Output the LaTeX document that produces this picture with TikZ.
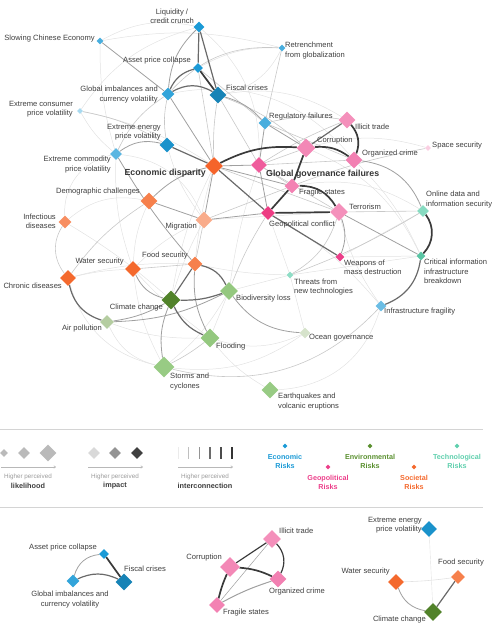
\documentclass[tikz,border=0pt]{standalone}
\usepackage{fontspec}
\setmainfont{Liberation Sans}
\usetikzlibrary{shapes.geometric,backgrounds,arrows.meta}

\definecolor{txt}{HTML}{3E3E3E}
\definecolor{lgdgray}{HTML}{9A9A9A}
\definecolor{rulegray}{HTML}{D4D4D4}
\definecolor{tieA}{HTML}{E2E2E2}
\definecolor{tieB}{HTML}{C8C8C8}
\definecolor{tieC}{HTML}{A0A0A0}
\definecolor{tieD}{HTML}{6A6A6A}
\definecolor{tieE}{HTML}{3A3A3A}
% categories
\definecolor{econ}{HTML}{1B9AD6}
\definecolor{geop}{HTML}{EC3F8A}
\definecolor{envi}{HTML}{5A902F}
\definecolor{soci}{HTML}{F4692D}
\definecolor{tech}{HTML}{5FCFAD}

\tikzset{every picture/.style={line width=0.75pt}}
\tikzset{
  risk/.style={diamond, aspect=1, inner sep=0pt, draw=none},
  lbl/.style={inner sep=0pt, text=txt, font=\fontsize{7.6}{9.3}\selectfont},
  hub/.style={inner sep=0pt, text=txt!85!black, font=\bfseries\fontsize{8.8}{10.5}\selectfont},
  lgdsmall/.style={inner sep=0pt, text=lgdgray, font=\fontsize{6.3}{7.5}\selectfont},
  lgdbold/.style={inner sep=0pt, text=txt, font=\bfseries\fontsize{7.3}{8.5}\selectfont},
  cattxt/.style={inner sep=0pt, align=center, font=\bfseries\fontsize{7.2}{9}\selectfont},
  lnkfaint/.style={draw=tieA, line width=0.5pt},
  lnkweak/.style={draw=tieB, line width=0.6pt},
  lnkmid/.style={draw=tieC, line width=0.8pt},
  lnkstrong/.style={draw=tieD, line width=1.2pt},
  lnkheavy/.style={draw=tieE, line width=1.7pt},
  scalearrow/.style={draw=lgdgray!70, line width=0.6pt, -{To[length=2.5pt,width=3pt]}},
}

\begin{document}
\begin{tikzpicture}[x=1pt,y=1pt,yscale=-1]
\useasboundingbox (0,0) rectangle (492,644);

%%%%%%%%%% Economic risks
\node[risk, fill=econ, minimum size=11pt] (liq) at (199,27) {};
\node[risk, fill=econ!80!white, minimum size=7pt] (chn) at (100,41) {};
\node[risk, fill=econ, minimum size=10pt] (asset) at (198,68) {};
\node[risk, fill=econ!85!black, minimum size=17pt] (fisc) at (218,95) {};
\node[risk, fill=econ!90!white, minimum size=13pt] (imbal) at (168,94) {};
\node[risk, fill=econ!80!white, minimum size=7pt] (retr) at (282,48) {};
\node[risk, fill=econ!38!white, minimum size=6pt] (cons) at (80,111) {};
\node[risk, fill=econ!95!black, minimum size=15pt] (energy) at (167,145) {};
\node[risk, fill=econ!72!white, minimum size=12pt] (comm) at (116,154) {};
\node[risk, fill=econ!80!white, minimum size=13pt] (reg) at (265,123) {};
\node[risk, fill=econ!65!white, minimum size=11pt] (infra) at (381,306) {};

%%%%%%%%%% Geopolitical risks
\node[risk, fill=geop!58!white, minimum size=17pt] (illicit) at (347,120) {};
\node[risk, fill=geop!62!white, minimum size=19pt] (corr) at (306,148) {};
\node[risk, fill=geop!66!white, minimum size=17pt] (crime) at (354,160) {};
\node[risk, fill=geop!25!white, minimum size=6pt] (space) at (428,148) {};
\node[risk, fill=geop!85!white, minimum size=16pt] (gov) at (259,165) {};
\node[risk, fill=geop!65!white, minimum size=15pt] (fragile) at (292,186) {};
\node[risk, fill=geop!95!red, minimum size=14pt] (geo) at (268,213) {};
\node[risk, fill=geop!58!white, minimum size=18pt] (terror) at (339,212) {};
\node[risk, fill=geop, minimum size=9pt] (wmd) at (340,257) {};

%%%%%%%%%% Societal risks
\node[risk, fill=soci!95!red, minimum size=18pt] (disp) at (214,166) {};
\node[risk, fill=soci!85!white, minimum size=17pt] (demo) at (149,201) {};
\node[risk, fill=soci!75!white, minimum size=13pt] (infect) at (65,222) {};
\node[risk, fill=soci!55!white, minimum size=17pt] (migr) at (204,220) {};
\node[risk, fill=soci, minimum size=16pt] (water) at (133,269) {};
\node[risk, fill=soci!85!white, minimum size=15pt] (food) at (195,264) {};
\node[risk, fill=soci, minimum size=16pt] (chronic) at (68,278) {};

%%%%%%%%%% Technological risks
\node[risk, fill=tech!75!white, minimum size=12pt] (online) at (423,211) {};
\node[risk, fill=tech!95!black, minimum size=9pt] (cii) at (421,256) {};
\node[risk, fill=tech!70!white, minimum size=7pt] (threat) at (290,275) {};

%%%%%%%%%% Environmental risks
\node[risk, fill=envi!90!black, minimum size=19pt] (climate) at (171,300) {};
\node[risk, fill=envi!55!white!90!green, minimum size=18pt] (bio) at (229,291) {};
\node[risk, fill=envi!45!white, minimum size=14pt] (air) at (107,322) {};
\node[risk, fill=envi!55!white!90!green, minimum size=19pt] (flood) at (210,338) {};
\node[risk, fill=envi!25!white, minimum size=11pt] (ocean) at (305,333) {};
\node[risk, fill=envi!52!white!90!green, minimum size=21pt] (storm) at (164,367) {};
\node[risk, fill=envi!52!white!90!green, minimum size=17pt] (quake) at (270,390) {};

%%%%%%%%%% Links
\begin{pgfonlayer}{background}
% faint background arcs
\draw[lnkfaint] (chn) to[bend right=20] (liq);
\draw[lnkfaint] (chn) to[bend left=8] (comm);
\draw[lnkfaint] (retr) to[bend left=15] (asset);
\draw[lnkfaint] (cons) to[bend right=10] (disp);
\draw[lnkfaint] (cons) to[bend left=10] (comm);
\draw[lnkfaint] (liq) to[bend right=25] (gov);
\draw[lnkfaint] (comm) to[bend left=10] (water);
\draw[lnkfaint] (demo) to[bend left=10] (water);
\draw[lnkfaint] (demo) to[bend left=25] (infect);
\draw[lnkfaint] (infect) to[bend right=5] (climate);
\draw[lnkfaint] (chronic) to[bend right=5] (water);
\draw[lnkfaint] (chronic) to[bend right=8] (food);
\draw[lnkfaint] (water) to[bend left=5] (flood);
\draw[lnkfaint] (water) to[bend left=10] (storm);
\draw[lnkfaint] (air) to[bend left=10] (flood);
\draw[lnkfaint] (air) to[bend left=25] (storm);
\draw[lnkfaint] (storm) to[bend left=10] (bio);
\draw[lnkfaint] (flood) to (bio);
\draw[lnkfaint] (food) to[bend right=5] (disp);
\draw[lnkfaint] (food) to[bend left=5] (threat);
\draw[lnkfaint] (bio) to (threat);
\draw[lnkfaint] (bio) to[bend right=5] (gov);
\draw[lnkfaint] (climate) to[bend right=5] (migr);
\draw[lnkfaint] (climate) to[bend right=8] (disp);
\draw[lnkfaint] (threat) to (ocean);
\draw[lnkfaint] (threat) to (cii);
\draw[lnkfaint] (geo) to (threat);
\draw[lnkfaint] (wmd) to (online);
\draw[lnkfaint] (wmd) to (cii);
\draw[lnkfaint] (migr) to (terror);
\draw[lnkfaint] (migr) to[bend left=10] (water);
\draw[lnkfaint] (infra) to[bend right=10] (terror);
\draw[lnkfaint] (infra) to[bend left=10] (geo);
\draw[lnkfaint] (corr) to[bend right=15] (space);
\draw[lnkfaint] (corr) to[bend right=20] (cii);
\draw[lnkfaint] (quake) to[bend left=35] (infra);
\draw[lnkfaint] (quake) to[bend right=10] (flood);
\draw[lnkfaint] (storm) to[bend left=20] (ocean);
\draw[lnkfaint] (retr) to[bend right=25] (fisc);
\draw[lnkfaint] (chn) to[bend right=12] (retr);
\draw[lnkfaint] (cons) to[bend right=20] (liq);
\draw[lnkfaint] (infect) to[bend right=40] (comm);
\draw[lnkfaint] (chronic) to[bend left=30] (storm);
\draw[lnkfaint] (comm) to[bend right=30] (migr);
\draw[lnkfaint] (imbal) to[bend right=30] (crime);
\draw[lnkfaint] (fisc) to[bend right=20] (illicit);
\draw[lnkfaint] (crime) to[bend right=10] (cii);
\draw[lnkfaint] (online) to[bend left=20] (fragile);
\draw[lnkfaint] (flood) to[bend left=20] (ocean);
\draw[lnkfaint] (energy) to[bend left=10] (migr);
% light links
\draw[lnkweak] (imbal) to[bend right=25] (retr);
\draw[lnkweak] (retr) to (reg);
\draw[lnkweak] (cons) to[bend right=10] (energy);
\draw[lnkweak] (asset) to (disp);
\draw[lnkweak] (asset) to (reg);
\draw[lnkweak] (fisc) to[bend left=5] (disp);
\draw[lnkweak] (fisc) to (gov);
\draw[lnkweak] (fisc) to[bend right=10] (corr);
\draw[lnkweak] (imbal) to[bend left=10] (energy);
\draw[lnkweak] (imbal) to[bend left=15] (comm);
\draw[lnkweak] (demo) to[bend left=10] (chronic);
\draw[lnkweak] (infect) to[bend left=35] (chronic);
\draw[lnkweak] (water) to (food);
\draw[lnkweak] (storm) to[bend left=5] (flood);
\draw[lnkweak] (food) to (migr);
\draw[lnkweak] (bio) to[bend right=5] (geo);
\draw[lnkweak] (threat) to[bend left=20] (terror);
\draw[lnkweak] (threat) to[bend left=5] (online);
\draw[lnkweak] (terror) to (online);
\draw[lnkweak] (gov) to (terror);
\draw[lnkweak] (fragile) to[bend right=5] (space);
\draw[lnkweak] (reg) to[bend right=10] (illicit);
\draw[lnkweak] (reg) to (crime);
\draw[lnkweak] (gov) to (corr);
\draw[lnkweak] (gov) to[bend right=5] (illicit);
\draw[lnkweak] (gov) to (crime);
\draw[lnkweak] (gov) to (fragile);
\draw[lnkweak] (disp) to (terror);
\draw[lnkweak] (migr) to (fragile);
\draw[lnkweak] (storm) to[bend left=30] (infra);
% medium links
\draw[lnkmid] (imbal) to[bend right=20] (liq);
\draw[lnkmid] (chn) to (imbal);
\draw[lnkmid] (comm) to[bend right=25] (energy);
\draw[lnkmid] (comm) to[bend left=5] (food);
\draw[lnkmid] (disp) to (imbal);
\draw[lnkmid] (disp) to (gov);
\draw[lnkmid] (disp) to (fragile);
\draw[lnkmid] (disp) to[bend left=15] (demo);
\draw[lnkmid] (disp) to (migr);
\draw[lnkmid] (demo) to (migr);
\draw[lnkmid] (migr) to (geo);
\draw[lnkmid] (gov) to (reg);
\draw[lnkmid] (gov) to (geo);
\draw[lnkmid] (fisc) to[bend right=15] (reg);
\draw[lnkmid] (reg) to (corr);
\draw[lnkmid] (terror) to[bend right=20] (wmd);
\draw[lnkmid] (terror) to (cii);
\draw[lnkmid] (crime) to[bend right=30] (online);
\draw[lnkmid] (climate) to[bend left=15] (storm);
\draw[lnkmid] (water) to[bend left=25] (climate);
\draw[lnkmid] (air) to[bend left=10] (climate);
\draw[lnkmid] (air) to[bend left=12] (bio);
\draw[lnkmid] (food) to[bend left=15] (flood);
\draw[lnkmid] (bio) to[bend left=25] (ocean);
% strong links
\draw[lnkstrong] (liq) to (asset);
\draw[lnkstrong] (liq) to (fisc);
\draw[lnkstrong] (imbal) to[bend right=25] (asset);
\draw[lnkstrong] (imbal) to[bend right=30] (fisc);
\draw[lnkstrong] (disp) to (energy);
\draw[lnkstrong] (disp) to (geo);
\draw[lnkstrong] (geo) to (wmd);
\draw[lnkstrong] (corr) to (illicit);
\draw[lnkstrong] (cii) to[bend right=30] (infra);
\draw[lnkstrong] (climate) to (food);
\draw[lnkstrong] (climate) to[bend left=10] (bio);
\draw[lnkstrong] (food) to[bend right=25] (bio);
\draw[lnkstrong] (climate) to[bend left=20] (flood);
\draw[lnkstrong] (chronic) to[bend left=30] (air);
% heavy links
\draw[lnkheavy] (asset) to (fisc);
\draw[lnkheavy] (disp) to[bend right=15] (corr);
\draw[lnkheavy] (corr) to[bend right=20] (crime);
\draw[lnkheavy] (illicit) to[bend right=30] (crime);
\draw[lnkheavy] (corr) to (fragile);
\draw[lnkheavy] (fragile) to (geo);
\draw[lnkheavy] (fragile) to[bend right=30] (terror);
\draw[lnkheavy] (geo) to (terror);
\draw[lnkheavy] (online) to[bend right=40] (cii);
\end{pgfonlayer}

%%%%%%%%%% Risk labels
\node[lbl, anchor=east, align=center] (liqtxt) at (194,16.5) {Liquidity /\\credit crunch};
\node[lbl, anchor=east] (chntxt) at (95,39) {Slowing Chinese Economy};
\node[lbl, anchor=east] (assettxt) at (191,61) {Asset price collapse};
\node[lbl, anchor=west] (fisctxt) at (226,88) {Fiscal crises};
\node[lbl, anchor=east, align=right] (imbaltxt) at (158,94.5) {Global imbalances and\\currency volatility};
\node[lbl, anchor=west, align=left] (retrtxt) at (285,50.5) {Retrenchment\\from globalization};
\node[lbl, anchor=east, align=right] (constxt) at (73,109.5) {Extreme consumer\\price volatility};
\node[lbl, anchor=east, align=right] (energytxt) at (161,132.5) {Extreme energy\\price volatility};
\node[lbl, anchor=east, align=right] (commtxt) at (111,164.5) {Extreme commodity\\price volatility};
\node[lbl, anchor=west] (regtxt) at (269,117) {Regulatory failures};
\node[lbl, anchor=west] (illicittxt) at (355,127) {Illicit trade};
\node[lbl, anchor=west] (corrtxt) at (317,141) {Corruption};
\node[lbl, anchor=west] (crimetxt) at (362,154) {Organized crime};
\node[lbl, anchor=west] (spacetxt) at (432,146) {Space security};
\node[hub, anchor=east] (disptxt) at (206,173) {Economic disparity};
\node[hub, anchor=west] (govtxt) at (266,174) {Global governance failures};
\node[lbl, anchor=west] (fragiletxt) at (299,193) {Fragile states};
\node[lbl, anchor=east] (demotxt) at (140,192) {Demographic challenges};
\node[lbl, anchor=east, align=right] (infecttxt) at (56,221.5) {Infectious\\diseases};
\node[lbl, anchor=east] (migrtxt) at (197,227) {Migration};
\node[lbl, anchor=west] (geotxt) at (269,225) {Geopolitical conflict};
\node[lbl, anchor=west] (terrortxt) at (349,207) {Terrorism};
\node[lbl, anchor=west, align=left] (onlinetxt) at (426,199.5) {Online data and\\information security};
\node[lbl, anchor=west, align=left] (wmdtxt) at (344,267) {Weapons of\\mass destruction};
\node[lbl, anchor=west, align=left] (ciitxt) at (424,271.5) {Critical information\\infrastructure\\breakdown};
\node[lbl, anchor=east] (watertxt) at (124,262) {Water security};
\node[lbl, anchor=east] (foodtxt) at (188,256) {Food security};
\node[lbl, anchor=east] (chronictxt) at (62,286) {Chronic diseases};
\node[lbl, anchor=west, align=left] (threattxt) at (294,287) {Threats from\\new technologies};
\node[lbl, anchor=east] (climatetxt) at (163,308) {Climate change};
\node[lbl, anchor=west] (biotxt) at (236,299) {Biodiversity loss};
\node[lbl, anchor=east] (airtxt) at (102,329) {Air pollution};
\node[lbl, anchor=west] (infratxt) at (384,312) {Infrastructure fragility};
\node[lbl, anchor=west] (floodtxt) at (216,347) {Flooding};
\node[lbl, anchor=west] (oceantxt) at (309,338) {Ocean governance};
\node[lbl, anchor=west, align=left] (stormtxt) at (170,381.5) {Storms and\\cyclones};
\node[lbl, anchor=west, align=left] (quaketxt) at (278,401.5) {Earthquakes and\\volcanic eruptions};

%%%%%%%%%% Legend
\coordinate (ruleAl) at (0,429);
\coordinate (ruleAr) at (483,429);
\draw[rulegray, line width=0.8pt] (ruleAl) -- (ruleAr);

% likelihood
\node[risk, fill=black!27, minimum size=8pt] (lk1) at (4,453) {};
\node[risk, fill=black!27, minimum size=12pt] (lk2) at (24,453) {};
\node[risk, fill=black!27, minimum size=17pt] (lk3) at (48,453) {};
\coordinate (lkA) at (1,467);
\coordinate (lkB) at (56,467);
\draw[scalearrow] (lkA) -- (lkB);
\node[lgdsmall] (lktxt) at (28,477) {Higher perceived};
\node[lgdbold] (lkbold) at (28,485.5) {likelihood};

% impact
\node[risk, fill=black!15, minimum size=12pt] (im1) at (94,453) {};
\node[risk, fill=black!42, minimum size=12pt] (im2) at (115,453) {};
\node[risk, fill=black!75, minimum size=12pt] (im3) at (137,453) {};
\coordinate (imA) at (88,467);
\coordinate (imB) at (143,467);
\draw[scalearrow] (imA) -- (imB);
\node[lgdsmall] (imtxt) at (115,477) {Higher perceived};
\node[lgdbold] (imbold) at (115,485.5) {impact};

% interconnection
\coordinate (ic1a) at (178,447); \coordinate (ic1b) at (178,459);
\coordinate (ic2a) at (188,447); \coordinate (ic2b) at (188,459);
\coordinate (ic3a) at (199,447); \coordinate (ic3b) at (199,459);
\coordinate (ic4a) at (210,447); \coordinate (ic4b) at (210,459);
\coordinate (ic5a) at (221,447); \coordinate (ic5b) at (221,459);
\coordinate (ic6a) at (232,447); \coordinate (ic6b) at (232,459);
\draw[black!8, line width=0.4pt] (ic1a) -- (ic1b);
\draw[black!25, line width=0.6pt] (ic2a) -- (ic2b);
\draw[black!42, line width=0.8pt] (ic3a) -- (ic3b);
\draw[black!58, line width=1.1pt] (ic4a) -- (ic4b);
\draw[black!70, line width=1.4pt] (ic5a) -- (ic5b);
\draw[black!80, line width=1.8pt] (ic6a) -- (ic6b);
\coordinate (icA) at (178,467);
\coordinate (icB) at (233,467);
\draw[scalearrow] (icA) -- (icB);
\node[lgdsmall] (ictxt) at (205,477) {Higher perceived};
\node[lgdbold] (icbold) at (205,485.5) {interconnection};

% categories
\node[risk, fill=econ, minimum size=5pt] (catecon) at (285,446) {};
\node[cattxt, text=econ] (catecontxt) at (285,461.5) {Economic\\Risks};
\node[risk, fill=geop, minimum size=5pt] (catgeop) at (328,467) {};
\node[cattxt, text=geop] (catgeoptxt) at (328,482.5) {Geopolitical\\Risks};
\node[risk, fill=envi, minimum size=5pt] (catenvi) at (370,446) {};
\node[cattxt, text=envi] (catenvitxt) at (370,461.5) {Environmental\\Risks};
\node[risk, fill=soci, minimum size=5pt] (catsoci) at (414,467) {};
\node[cattxt, text=soci] (catsocitxt) at (414,482.5) {Societal\\Risks};
\node[risk, fill=tech, minimum size=5pt] (cattech) at (457,446) {};
\node[cattxt, text=tech] (cattechtxt) at (457,461.5) {Technological\\Risks};

\coordinate (ruleBl) at (0,507);
\coordinate (ruleBr) at (483,507);
\draw[rulegray, line width=0.8pt] (ruleBl) -- (ruleBr);

%%%%%%%%%% Clusters
% economic cluster
\node[risk, fill=econ, minimum size=10pt] (asset2) at (104,554) {};
\node[risk, fill=econ!90!white, minimum size=13pt] (imbal2) at (73,581) {};
\node[risk, fill=econ!85!black, minimum size=17pt] (fisc2) at (124,582) {};
\begin{pgfonlayer}{background}
\draw[lnkmid] (imbal2) to[bend right=35] (asset2);
\draw[lnkstrong] (imbal2) to[bend right=25] (fisc2);
\draw[lnkheavy] (asset2) to (fisc2);
\end{pgfonlayer}
\node[lbl, anchor=east] (asset2txt) at (97,548) {Asset price collapse};
\node[lbl, align=center] (imbal2txt) at (70,599.5) {Global imbalances and\\currency volatility};
\node[lbl, anchor=west] (fisc2txt) at (124,569) {Fiscal crises};

% governance cluster
\node[risk, fill=geop!58!white, minimum size=18pt] (illicit2) at (272,539) {};
\node[risk, fill=geop!62!white, minimum size=20pt] (corr2) at (230,567) {};
\node[risk, fill=geop!66!white, minimum size=17pt] (crime2) at (278,579) {};
\node[risk, fill=geop!65!white, minimum size=16pt] (fragile2) at (217,605) {};
\begin{pgfonlayer}{background}
\draw[lnkweak, line width=0.5pt, draw=tieC] (fragile2) to (illicit2);
\draw[lnkmid, line width=1pt] (fragile2) to[bend right=5] (crime2);
\draw[lnkstrong, draw=tieE] (corr2) to (illicit2);
\draw[lnkstrong, draw=tieE] (illicit2) to[bend right=35] (crime2);
\draw[lnkheavy] (corr2) to[bend right=10] (crime2);
\draw[lnkheavy] (corr2) to[bend left=5] (fragile2);
\end{pgfonlayer}
\node[lbl, anchor=west] (illicit2txt) at (279,531) {Illicit trade};
\node[lbl, anchor=east] (corr2txt) at (222,558) {Corruption};
\node[lbl, anchor=west] (crime2txt) at (269,592) {Organized crime};
\node[lbl, anchor=west] (fragile2txt) at (223,613) {Fragile states};

% environment cluster
\node[risk, fill=econ!95!black, minimum size=16pt] (energy3) at (429,529) {};
\node[risk, fill=soci!85!white, minimum size=14pt] (food3) at (458,577) {};
\node[risk, fill=soci, minimum size=16pt] (water3) at (396,582) {};
\node[risk, fill=envi!90!black, minimum size=18pt] (climate3) at (433,612) {};
\begin{pgfonlayer}{background}
\draw[lnkfaint, line width=0.4pt] (energy3) to (climate3);
\draw[lnkfaint, line width=0.6pt] (water3) to[bend left=3] (food3);
\draw[lnkmid] (water3) to[bend left=30] (climate3);
\draw[lnkstrong] (food3) to (climate3);
\end{pgfonlayer}
\node[lbl, anchor=east, align=right] (energy3txt) at (422,525.5) {Extreme energy\\price volatility};
\node[lbl, anchor=west] (food3txt) at (438,563) {Food security};
\node[lbl, anchor=east] (water3txt) at (390,572) {Water security};
\node[lbl, anchor=east] (climate3txt) at (426,620) {Climate change};

\end{tikzpicture}
\end{document}
